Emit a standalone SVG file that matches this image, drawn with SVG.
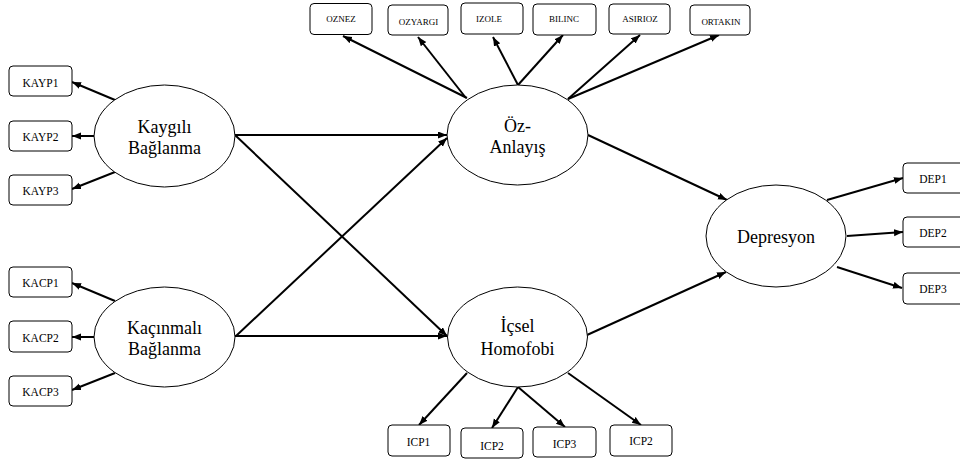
<svg xmlns="http://www.w3.org/2000/svg" width="960" height="461" viewBox="0 0 960 461">
<defs>
<marker id="ah" markerUnits="userSpaceOnUse" markerWidth="10" markerHeight="8" refX="9" refY="3.5" orient="auto">
<path d="M0,0 L9,3.5 L0,7 z" fill="#000"/>
</marker>
<style>
.lat{fill:#fff;stroke:#000;stroke-width:1}
.box{fill:#fff;stroke:#000;stroke-width:1}
text{font-family:'Liberation Serif',serif;text-anchor:middle;fill:#000}
.lt{font-size:18px}
.bt{font-size:11.5px}
.st{font-size:9px}
.c{stroke:#000;stroke-width:2;fill:none;marker-end:url(#ah)}
</style>
</defs>
<rect width="960" height="461" fill="#fff"/>
<g id="connectors">
<line class="c" x1="115" y1="100" x2="72" y2="82"/>
<line class="c" x1="94" y1="136" x2="72" y2="136"/>
<line class="c" x1="115" y1="172" x2="72" y2="189"/>
<line class="c" x1="115" y1="301" x2="72" y2="283"/>
<line class="c" x1="94" y1="337" x2="72" y2="337"/>
<line class="c" x1="115" y1="373" x2="72" y2="390"/>
<line class="c" x1="235" y1="135" x2="447" y2="135"/>
<line class="c" x1="235" y1="135" x2="447" y2="336"/>
<line class="c" x1="236" y1="336" x2="447" y2="138"/>
<line class="c" x1="235" y1="336" x2="447" y2="336"/>
<line class="c" x1="467" y1="98" x2="343" y2="36"/>
<line class="c" x1="466" y1="98" x2="418" y2="37"/>
<line class="c" x1="518" y1="85" x2="493" y2="37"/>
<line class="c" x1="518" y1="85" x2="563" y2="35"/>
<line class="c" x1="568" y1="99" x2="640" y2="35"/>
<line class="c" x1="568" y1="99" x2="719" y2="35"/>
<line class="c" x1="588" y1="135" x2="727" y2="200"/>
<line class="c" x1="587" y1="335" x2="726" y2="272"/>
<line class="c" x1="467" y1="373" x2="419" y2="425"/>
<line class="c" x1="518" y1="387" x2="492" y2="428"/>
<line class="c" x1="518" y1="387" x2="565" y2="427"/>
<line class="c" x1="568" y1="373" x2="641" y2="425"/>
<line class="c" x1="827" y1="200" x2="903" y2="178"/>
<line class="c" x1="847" y1="236" x2="903" y2="232"/>
<line class="c" x1="837" y1="267" x2="902" y2="288"/>
</g>
<g id="kaygili">
<ellipse class="lat" cx="164.5" cy="136" rx="70.5" ry="51"/>
<text class="lt" x="164.5" y="132.5">Kaygılı</text>
<text class="lt" x="164.5" y="154">Bağlanma</text>
</g>
<g id="kacinmali">
<ellipse class="lat" cx="164.5" cy="337" rx="70.5" ry="50"/>
<text class="lt" x="164.5" y="333.5">Kaçınmalı</text>
<text class="lt" x="164.5" y="354.5">Bağlanma</text>
</g>
<g id="ozanlayis">
<ellipse class="lat" cx="517.5" cy="135" rx="70.5" ry="50"/>
<text class="lt" x="517.5" y="131.5">Öz-</text>
<text class="lt" x="517.5" y="153">Anlayış</text>
</g>
<g id="icsel">
<ellipse class="lat" cx="517.5" cy="337" rx="70" ry="50"/>
<text class="lt" x="517.5" y="332">İçsel</text>
<text class="lt" x="517.5" y="355">Homofobi</text>
</g>
<g id="depresyon">
<ellipse class="lat" cx="776" cy="236" rx="70" ry="51"/>
<text class="lt" x="776" y="242.5">Depresyon</text>
</g>
<g id="kayp1"><rect class="box" x="9" y="66" width="63" height="30" rx="4"/><text class="bt" x="40.5" y="87">KAYP1</text></g>
<g id="kayp2"><rect class="box" x="9" y="121" width="63" height="30" rx="4"/><text class="bt" x="40.5" y="140.5">KAYP2</text></g>
<g id="kayp3"><rect class="box" x="9" y="175" width="63" height="30" rx="4"/><text class="bt" x="40.5" y="195">KAYP3</text></g>
<g id="kacp1"><rect class="box" x="9" y="267" width="63" height="30" rx="4"/><text class="bt" x="40.5" y="287">KACP1</text></g>
<g id="kacp2"><rect class="box" x="9" y="321" width="63" height="31" rx="4"/><text class="bt" x="40.5" y="341.5">KACP2</text></g>
<g id="kacp3"><rect class="box" x="9" y="376" width="63" height="30" rx="4"/><text class="bt" x="40.5" y="396">KACP3</text></g>
<g id="oznez"><rect class="box" x="310" y="3.5" width="62" height="31" rx="4"/><text class="st" x="341" y="21.5">OZNEZ</text></g>
<g id="ozyargi"><rect class="box" x="388" y="5" width="60" height="30" rx="4"/><text class="st" x="418.5" y="25">OZYARGI</text></g>
<g id="izole"><rect class="box" x="461" y="3" width="62" height="31" rx="4"/><text class="st" x="489" y="21.5">IZOLE</text></g>
<g id="bilinc"><rect class="box" x="533" y="4" width="63" height="31" rx="4"/><text class="st" x="564" y="21.5">BILINC</text></g>
<g id="asirioz"><rect class="box" x="609" y="4" width="61" height="30" rx="4"/><text class="st" x="640" y="21.5">ASIRIOZ</text></g>
<g id="ortakin"><rect class="box" x="690" y="5" width="60" height="30" rx="4"/><text class="st" x="721" y="24.5">ORTAKIN</text></g>
<g id="icp1"><rect class="box" x="388" y="425" width="62" height="31" rx="4"/><text class="bt" x="418.5" y="445.5">ICP1</text></g>
<g id="icp2a"><rect class="box" x="461" y="428" width="62" height="30" rx="4"/><text class="bt" x="492" y="450">ICP2</text></g>
<g id="icp3"><rect class="box" x="533" y="427" width="63" height="30" rx="4"/><text class="bt" x="564.5" y="447.5">ICP3</text></g>
<g id="icp2b"><rect class="box" x="610" y="425" width="62" height="31" rx="4"/><text class="bt" x="641" y="445">ICP2</text></g>
<g id="dep1"><rect class="box" x="903" y="163" width="62" height="30" rx="4"/><text class="bt" x="933" y="183">DEP1</text></g>
<g id="dep2"><rect class="box" x="903" y="217" width="62" height="30" rx="4"/><text class="bt" x="933" y="236.5">DEP2</text></g>
<g id="dep3"><rect class="box" x="903" y="273" width="62" height="31" rx="4"/><text class="bt" x="933" y="293">DEP3</text></g>
</svg>
